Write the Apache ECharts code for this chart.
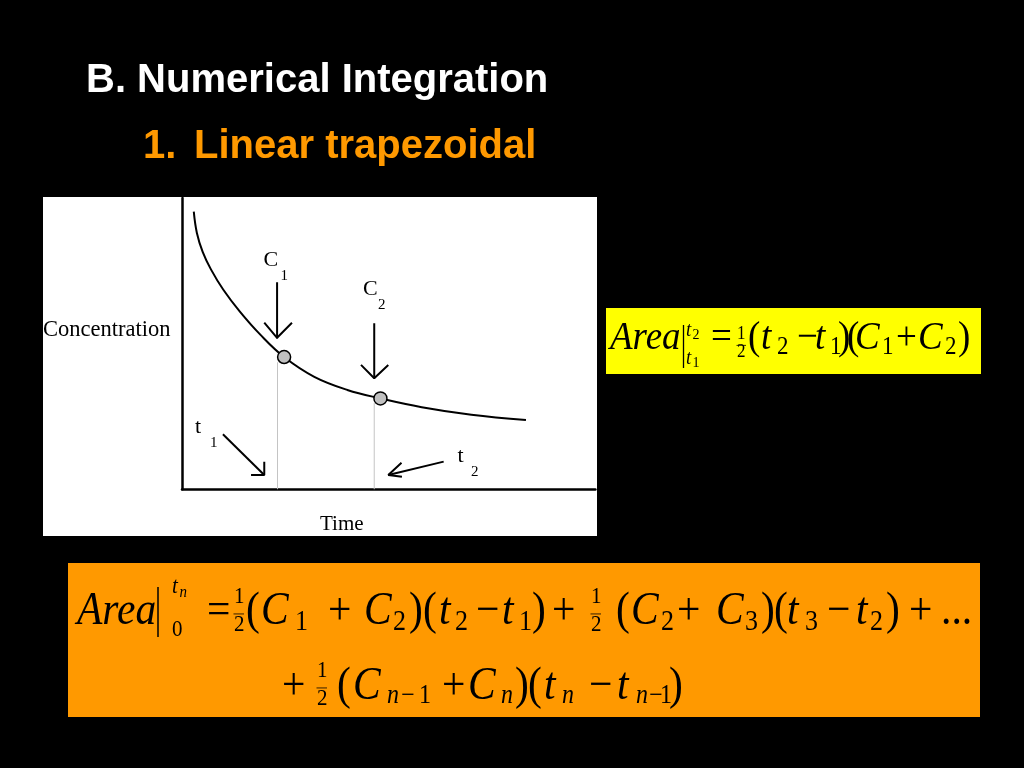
<!DOCTYPE html>
<html>
<head>
<meta charset="utf-8">
<script src="https://cdn.jsdelivr.net/npm/echarts@6/dist/echarts.min.js"></script>
<style>html,body{margin:0;padding:0;background:#000}#c{width:1024px;height:768px}</style>
</head>
<body>
<div id="c"></div>
<script>
// ---- data (axis units 0..100) ----
const curveX = [2.85, 3.6, 5, 7, 10, 14, 19, 24.7, 32, 40, 48, 58, 70, 83.2];
const curveY = [95.3, 88, 81.5, 75.5, 68.5, 61, 53, 45.4, 38.6, 34.1, 31.2, 28.2, 25.6, 23.8];
const pointX = [24.7, 48.0];
const pointY = [45.4, 31.2];
const guideX = [23.1, 46.5];
const guideTop = [43.6, 29.6];
const c1Shaft = [[23.0, 71.1], [23.0, 51.8]];
const c1Head = [[19.9, 57.2], [23.0, 52.0], [26.6, 57.2]];
const c2Shaft = [[46.5, 57.0], [46.5, 38.1]];
const c2Head = [[43.3, 42.7], [46.5, 38.1], [49.9, 42.7]];
const t1Shaft = [[9.9, 18.9], [19.9, 4.9]];
const t1Head = [[16.7, 4.9], [19.9, 4.9], [19.9, 9.5]];
const t2Shaft = [[63.3, 9.5], [49.9, 4.9]];
const t2Head = [[53.1, 9.1], [49.9, 4.9], [53.2, 4.3]];

const title = 'B. Numerical Integration';
const subNum = '1.';
const subTitle = 'Linear trapezoidal';

// ---- graphic helpers ----
const G = [];
function txt(x, base, text, o) {
  const size = o.size, sy = o.sy || 1, sx = o.sx || 1;
  const k = o.sans ? 0.345 : 0.3375;
  G.push({
    type: 'text', x: x, y: base - k * size * sy, scaleX: sx, scaleY: sy, z: 10,
    style: {
      text: text, fontFamily: o.sans ? 'Liberation Sans' : 'Liberation Serif',
      fontSize: size, fontStyle: o.it ? 'italic' : 'normal', fontWeight: o.bold ? 'bold' : 'normal',
      fill: o.fill || '#000', align: 'left', verticalAlign: 'middle',
      textAlign: 'left', textVerticalAlign: 'middle'
    }
  });
}
function seg(x1, y1, x2, y2, w) {
  G.push({type: 'line', z: 10, shape: {x1: x1, y1: y1, x2: x2, y2: y2}, style: {stroke: '#000', lineWidth: w}});
}
function rect(x, y, w, h, c) {
  G.push({type: 'rect', z: 0, shape: {x: x, y: y, width: w, height: h}, style: {fill: c}});
}
function formula(tokens, base, M, sub, subDy, sy) {
  tokens.forEach(function (t) {
    const kind = t[2];
    if (kind === 'i' || kind === 'r') txt(t[0], base, t[1], {size: M, it: kind === 'i', sy: sy});
    else txt(t[0], base + subDy, t[1], {size: sub, it: kind === 'si', sy: sy});
  });
}
function frac(x, base, size, up, down, w, sy) {
  txt(x, base + up, '1', {size: size, sy: sy});
  txt(x, base + down, '2', {size: size, sy: sy});
  const my = base + (up + down) / 2 - 0.3 * size * sy + 2;
  seg(x - 0.5, my, x + w, my, 0.8);
}

// boxes
rect(43, 197, 554, 339, '#ffffff');
rect(606, 308, 375, 66, '#ffff00');
rect(68, 563, 912, 154, '#ff9900');

// titles
txt(86, 95, title, {size: 40, sans: true, bold: true, fill: '#ffffff'});
txt(143, 161, subNum, {size: 40, sans: true, bold: true, fill: '#ff9900'});
txt(194, 161, subTitle, {size: 40, sans: true, bold: true, fill: '#ff9900'});

// chart labels
txt(43, 338, 'Concentration', {size: 22.5});
txt(320, 531.5, 'Time', {size: 21});
txt(263.5, 268, 'C', {size: 22});
txt(280.5, 281.5, '1', {size: 15});
txt(363, 296.7, 'C', {size: 22});
txt(378, 310, '2', {size: 15});
txt(195, 435, 't', {size: 22});
txt(210, 448, '1', {size: 15});
txt(457.5, 463.3, 't', {size: 22});
txt(471, 476.7, '2', {size: 15});

// yellow formula
const yb = 352, ysy = 1.1;
formula([[610, 'Area', 'i'], [711, '=', 'r'], [748, '(', 'r'], [761, 't', 'i'], [777, '2', 'sr'],
  [797, '\u2212', 'r'], [815, 't', 'i'], [830, '1', 'sr'], [838, ')', 'r'], [847, '(', 'r'],
  [855, 'C', 'i'], [882, '1', 'sr'], [896, '+', 'r'], [918, 'C', 'i'], [945, '2', 'sr'], [958, ')', 'r']],
  yb, 37, 23, 4, ysy);
seg(683.5, 325, 683.5, 368, 1.3);
txt(686, 338, 't', {size: 19, it: true, sy: ysy});
txt(692.5, 340, '2', {size: 14, sy: ysy});
txt(686, 366, 't', {size: 19, it: true, sy: ysy});
txt(692.5, 368, '1', {size: 14, sy: ysy});
frac(737, yb, 17, -12, 6, 9, ysy);

// orange formula line 1
const ob1 = 627, ob2 = 702, osy = 1.12;
formula([[77, 'Area', 'i'], [207, '=', 'r'], [246, '(', 'r'], [261, 'C', 'i'], [295, '1', 'sr'],
  [328, '+', 'r'], [364, 'C', 'i'], [393, '2', 'sr'], [409, ')', 'r'], [423, '(', 'r'],
  [439, 't', 'i'], [455, '2', 'sr'], [476, '\u2212', 'r'], [502, 't', 'i'], [519, '1', 'sr'],
  [532, ')', 'r'], [552, '+', 'r'], [616, '(', 'r'], [631, 'C', 'i'], [661, '2', 'sr'],
  [677, '+', 'r'], [716, 'C', 'i'], [745, '3', 'sr'], [761, ')', 'r'], [774, '(', 'r'],
  [787, 't', 'i'], [805, '3', 'sr'], [827, '\u2212', 'r'], [856, 't', 'i'], [870, '2', 'sr'],
  [886, ')', 'r'], [909, '+', 'r'], [941, '...', 'r']],
  ob1, 41.5, 26, 5, osy);
seg(158, 587, 158, 637, 1.5);
txt(172, 595, 't', {size: 21, it: true, sy: osy});
txt(179.5, 598, 'n', {size: 15, it: true, sy: osy});
txt(172, 638, '0', {size: 21, sy: osy});
frac(234, ob1, 21, -22, 6, 10, osy);
frac(591, ob1, 21, -22, 6, 10, osy);

// orange formula line 2
formula([[282, '+', 'r'], [337, '(', 'r'], [353, 'C', 'i'], [387, 'n', 'si'], [401, '\u2212', 'sr'],
  [419, '1', 'sr'], [442, '+', 'r'], [468, 'C', 'i'], [501, 'n', 'si'], [515, ')', 'r'],
  [528, '(', 'r'], [544, 't', 'i'], [562, 'n', 'si'], [589, '\u2212', 'r'], [617, 't', 'i'],
  [636, 'n', 'si'], [649, '\u2212', 'sr'], [660, '1', 'sr'], [669, ')', 'r']],
  ob2, 41.5, 24, 3, osy);
frac(317, ob2, 21, -23, 5, 10, osy);

// ---- chart ----
function poly(data, color, w) {
  return {type: 'line', data: data, symbol: 'none', silent: true, z: 4,
    lineStyle: {color: color, width: w}};
}
const series = [
  poly([[guideX[0], 0], [guideX[0], guideTop[0]]], '#c4c4c4', 1),
  poly([[guideX[1], 0], [guideX[1], guideTop[1]]], '#c4c4c4', 1),
  {type: 'line', data: curveX.map(function (x, i) { return [x, curveY[i]]; }), smooth: 0.4,
    symbol: 'none', z: 5, lineStyle: {color: '#000', width: 2}},
  poly(c1Shaft, '#000', 2), poly(c1Head, '#000', 2),
  poly(c2Shaft, '#000', 2), poly(c2Head, '#000', 2),
  poly(t1Shaft, '#000', 2), poly(t1Head, '#000', 2),
  poly(t2Shaft, '#000', 2), poly(t2Head, '#000', 2),
  {type: 'scatter', z: 6, data: pointX.map(function (x, i) { return [x, pointY[i]]; }),
    symbol: 'circle', symbolSize: 13,
    itemStyle: {color: '#c0c0c0', borderColor: '#000', borderWidth: 1.5, opacity: 1}}
];

const chart = echarts.init(document.getElementById('c'));
chart.setOption({
  backgroundColor: '#000',
  animation: false,
  grid: {left: 182, top: 198, width: 413.4, height: 291.3, containLabel: false},
  xAxis: {type: 'value', min: 0, max: 100, axisLine: {show: true, onZero: false, lineStyle: {color: '#000', width: 2.5}},
    axisTick: {show: false}, axisLabel: {show: false}, splitLine: {show: false}},
  yAxis: {type: 'value', min: 0, max: 100, axisLine: {show: true, onZero: false, lineStyle: {color: '#000', width: 2.5}},
    axisTick: {show: false}, axisLabel: {show: false}, splitLine: {show: false}},
  graphic: {elements: G},
  series: series
});
</script>
</body>
</html>
